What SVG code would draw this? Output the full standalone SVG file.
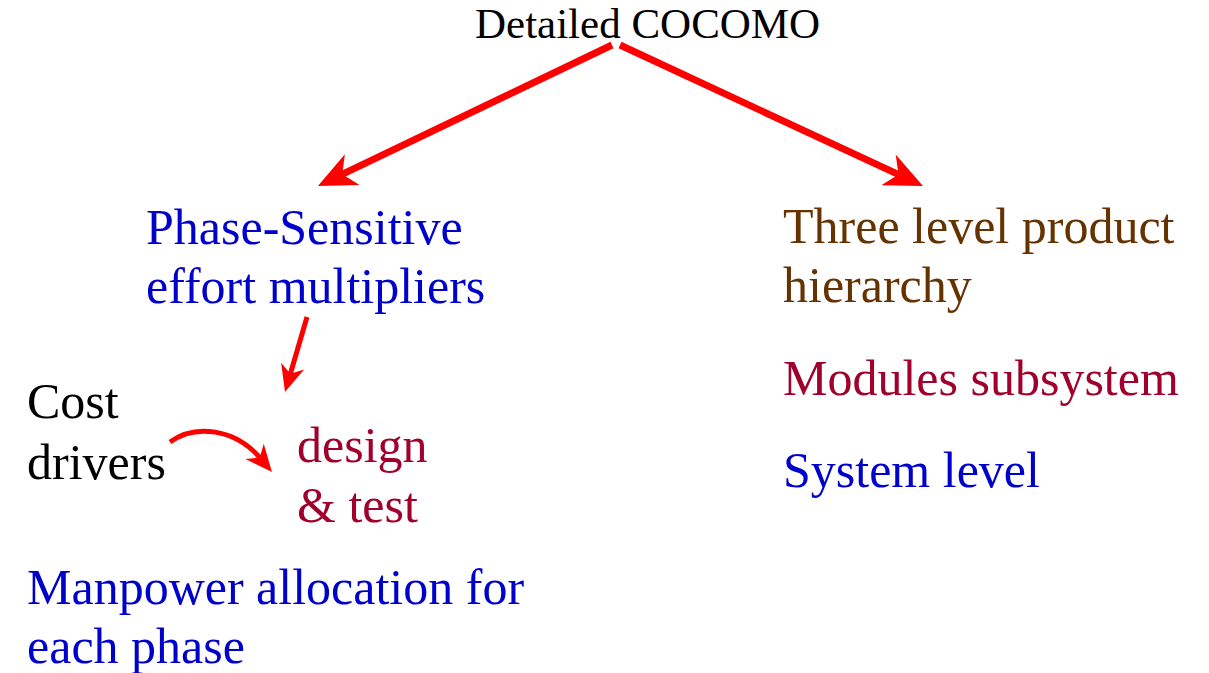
<svg xmlns="http://www.w3.org/2000/svg" width="1209" height="673" viewBox="0 0 1209 673">
  <style>
    text { font-family: "Liberation Serif", "Times New Roman", serif; font-size: 50px; }
    .title { font-size: 43px; fill: #000000; }
    .blue { fill: #0000cc; }
    .brown { fill: #663300; }
    .crimson { fill: #a0002b; }
    .black { fill: #000000; }
    .arrow { fill: none; stroke: #ff0000; stroke-linecap: butt; }
    .big { stroke-width: 7; marker-end: url(#headBig); }
    .small { stroke-width: 5; marker-end: url(#headSmall); }
  </style>
  <defs>
    <!-- barbed heads; the line ends inside the head, 25px/17px short of the tip -->
    <marker id="headBig" markerUnits="userSpaceOnUse" viewBox="-40 -20 45 40" refX="-25" refY="0" markerWidth="45" markerHeight="40" orient="auto" overflow="visible">
      <path d="M0,0 L-38,-17 L-27,0 L-38,17 Z" fill="#ff0000"/>
    </marker>
    <marker id="headSmall" markerUnits="userSpaceOnUse" viewBox="-30 -15 35 30" refX="-17" refY="0" markerWidth="35" markerHeight="30" orient="auto" overflow="visible">
      <path d="M0,0 L-27,-12 L-19,0 L-27,12 Z" fill="#ff0000"/>
    </marker>
  </defs>

  <g id="connectors">
    <path class="arrow big" d="M612,45 L340.5,175.2"/>
    <path class="arrow big" d="M620,45 L900.3,175.4"/>
    <path class="arrow small" d="M307,317 L289.8,375.7"/>
    <path class="arrow small" d="M170,442 C195,424 235,428 261,459"/>
  </g>

  <g id="detailed-cocomo">
    <text class="title" x="475" y="38">Detailed COCOMO</text>
  </g>

  <g id="phase-sensitive">
    <text class="blue" x="146" y="244">Phase-Sensitive</text>
    <text class="blue" x="146" y="303">effort multipliers</text>
  </g>

  <g id="cost-drivers">
    <text class="black" x="27" y="418">Cost</text>
    <text class="black" x="27" y="479">drivers</text>
  </g>

  <g id="design-test">
    <text class="crimson" x="297" y="462">design</text>
    <text class="crimson" x="297" y="522">&amp; test</text>
  </g>

  <g id="manpower">
    <text class="blue" x="27" y="604">Manpower allocation for</text>
    <text class="blue" x="27" y="663">each phase</text>
  </g>

  <g id="product-hierarchy">
    <text class="brown" x="783" y="243">Three level product</text>
    <text class="brown" x="783" y="302">hierarchy</text>
  </g>

  <g id="modules-subsystem">
    <text class="crimson" x="783" y="395">Modules subsystem</text>
  </g>

  <g id="system-level">
    <text class="blue" x="783" y="487">System level</text>
  </g>
</svg>
